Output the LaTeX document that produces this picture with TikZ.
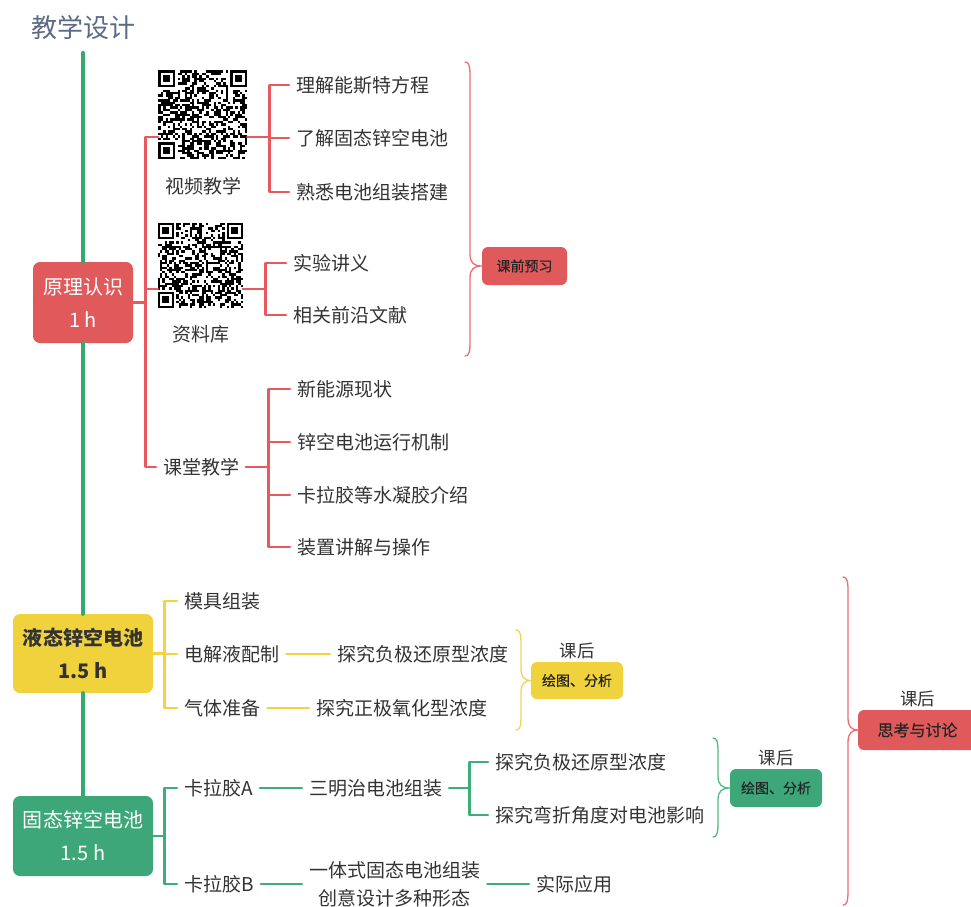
\documentclass[tikz,border=0pt]{standalone}
\usepackage{fontspec}
\setmainfont{Noto Sans CJK SC}
\newfontfamily\semibold{Noto Sans CJK SC}[FakeBold=0.6]
\usetikzlibrary{positioning,calc}

\definecolor{mindred}{HTML}{E05A5B}
\definecolor{linered}{HTML}{E8595F}
\definecolor{bracered}{HTML}{EB6D72}
\definecolor{mindyellow}{HTML}{EFD23C}
\definecolor{lineyellow}{HTML}{F2D340}
\definecolor{braceyellow}{HTML}{F0D45A}
\definecolor{mindgreen}{HTML}{3DA77A}
\definecolor{linegreen}{HTML}{3DAE7B}
\definecolor{bracegreen}{HTML}{52B888}
\definecolor{trunkgreen}{HTML}{36AA6E}
\definecolor{titleblue}{HTML}{5C6A86}
\definecolor{inkgray}{HTML}{333333}

% fake QR code: 37x37 modules drawn from the node's north west corner
\newcommand{\qrpattern}[3]{%
  \begin{scope}[shift={(#1.north west)}]
    \pgfmathsetseed{#3}
    \foreach \i in {0,...,36}
      \foreach \j in {0,...,36}{
        \pgfmathtruncatemacro\qron{(rnd<0.5)&&!((\i<8&&\j<8)||(\i>28&&\j<8)||(\i<8&&\j>28))}
        \ifnum\qron=1 \fill (\i*#2,\j*#2) rectangle ++(#2,#2); \fi
      }
    \foreach \fx/\fy in {0/0,30/0,0/30}{
      \fill (\fx*#2,\fy*#2) rectangle ++(7*#2,7*#2);
      \fill[white] (\fx*#2+#2,\fy*#2+#2) rectangle ++(5*#2,5*#2);
      \fill (\fx*#2+2*#2,\fy*#2+2*#2) rectangle ++(3*#2,3*#2);
    }
  \end{scope}}

% curly brace: colour, x, top, tip y, bottom, node at the tip
\newcommand{\groupbrace}[6]{%
  \draw[groupline,draw=#1] (#2-5,#3) .. controls (#2-1,#3) and (#2,#3+4) .. (#2,#3+14)
    -- (#2,#4-12) .. controls (#2,#4-3) and (#2+4,#4) .. (#6.west)
    .. controls (#2+4,#4) and (#2,#4+3) .. (#2,#4+12)
    -- (#2,#5-14) .. controls (#2,#5-4) and (#2-1,#5) .. (#2-5,#5);}

\begin{document}
\begin{tikzpicture}[x=1pt,y=-1pt,line cap=round,line join=round]
    \tikzstyle{every node}=[text=inkgray]
    \tikzstyle{title}=[font=\fontsize{26}{30}\selectfont,text=titleblue]
    \tikzstyle{topic}=[rounded corners=7pt,inner sep=0pt,align=center,font=\fontsize{20}{33}\selectfont]
    \tikzstyle{leaf}=[anchor=west,inner xsep=7pt,inner ysep=2pt,font=\fontsize{19}{28}\selectfont]
    \tikzstyle{tag}=[rounded corners=6pt,inner sep=0pt,text=black!85,font=\fontsize{14}{16}\semibold]
    \tikzstyle{note}=[inner sep=2pt,font=\fontsize{17.5}{20}\selectfont]
    \tikzstyle{qr}=[inner sep=0pt]
    \tikzstyle{trunk}=[draw=trunkgreen,line width=4.2pt]
    \tikzstyle{redline}=[draw=linered,line width=2.9pt]
    \tikzstyle{yellowline}=[draw=lineyellow,line width=2.9pt]
    \tikzstyle{greenline}=[draw=linegreen,line width=2.9pt]
    \tikzstyle{groupline}=[line width=1.3pt]

    \useasboundingbox (0,0) rectangle (971,906);

    % Title and main topics on the trunk
    \node[title] (heading) at (83,28) {教学设计};
    \coordinate (trunktop) at (83,53);
    \node[topic,fill=mindred,text=white,minimum width=100pt,minimum height=81pt] (principle) at (83,302.5) {原理认识\\1 h};
    \node[topic,fill=mindyellow,minimum width=140pt,minimum height=79pt,font=\fontsize{20}{33}\selectfont\bfseries] (liquid) at (83,653.5) {液态锌空电池\\1.5 h};
    \node[topic,fill=mindgreen,text=white,minimum width=140pt,minimum height=80pt] (solid) at (83,836) {固态锌空电池\\1.5 h};
    \draw[trunk] (trunktop) -- (principle.north) (principle.south) -- (liquid.north) (liquid.south) -- (solid.north);

    % Principle part: two QR codes and the classroom branch
    \node[qr,minimum size=89pt] (qrA) at (203,115) {};
    \node[qr,minimum size=85pt] (qrB) at (200.5,265.5) {};
    \qrpattern{qrA}{2.4}{7}
    \qrpattern{qrB}{2.3}{23}
    \node[leaf,anchor=center] (video) at (203,186) {视频教学};
    \node[leaf,anchor=center] (library) at (201,334) {资料库};
    \coordinate (qrA-in) at ($(qrA.west)+(0,22)$);
    \coordinate (qrA-out) at ($(qrA.east)+(0,22)$);
    \coordinate (qrB-in) at ($(qrB.west)+(0,23.5)$);
    \coordinate (qrB-out) at ($(qrB.east)+(0,23.5)$);

    \node[leaf] (nernst) at (289,85) {理解能斯特方程};
    \node[leaf] (solidintro) at (289,138) {了解固态锌空电池};
    \node[leaf] (assembly) at (289,192) {熟悉电池组装搭建};
    \node[leaf] (handout) at (286,263) {实验讲义};
    \node[leaf] (papers) at (286,315) {相关前沿文献};
    \node[leaf] (classroom) at (156,467) {课堂教学};
    \node[leaf] (energy) at (290,389) {新能源现状};
    \node[leaf] (mechanism) at (290,442) {锌空电池运行机制};
    \node[leaf] (hydrogel) at (290,495) {卡拉胶等水凝胶介绍};
    \node[leaf] (device) at (290,547) {装置讲解与操作};

    \foreach \dest in {qrA-in,qrB-in,classroom.west}
        \draw[redline] (principle.east) -- ++(12,0) |- (\dest);
    \foreach \dest in {nernst,solidintro,assembly}
        \draw[redline] (qrA-out) -- ++(22,0) |- (\dest.west);
    \foreach \dest in {handout,papers}
        \draw[redline] (qrB-out) -- ++(22,0) |- (\dest.west);
    \foreach \dest in {energy,mechanism,hydrogel,device}
        \draw[redline] (classroom.east) -- ++(22,0) |- (\dest.west);

    \node[tag,fill=mindred,minimum width=85pt,minimum height=38pt] (preview) at (524.5,266) {课前预习};
    \groupbrace{bracered}{470}{62}{266}{356}{preview}

    % Liquid battery part
    \node[leaf] (mould) at (177,601) {模具组装};
    \node[leaf] (electrolyte) at (177,654) {电解液配制};
    \node[leaf] (gas) at (177,708) {气体准备};
    \node[leaf] (anodeY) at (330,654) {探究负极还原型浓度};
    \node[leaf] (cathodeY) at (309,708) {探究正极氧化型浓度};
    \foreach \dest in {mould,electrolyte,gas}
        \draw[yellowline] (liquid.east) -- ++(11,0) |- (\dest.west);
    \draw[yellowline] (electrolyte.east) -- (anodeY.west);
    \draw[yellowline] (gas.east) -- (cathodeY.west);

    \node[tag,fill=mindyellow,minimum width=92pt,minimum height=37pt] (analysisY) at (577,680.5) {绘图、分析};
    \node[note,above=1pt of analysisY] (afterY) {课后};
    \groupbrace{braceyellow}{521}{630}{680.5}{730}{analysisY}

    % Solid battery part
    \node[leaf] (gelA) at (177,788) {卡拉胶A};
    \node[leaf] (gelB) at (177,884) {卡拉胶B};
    \node[leaf] (sandwich) at (302,788) {三明治电池组装};
    \node[leaf] (anodeG) at (488,762) {探究负极还原型浓度};
    \node[leaf] (bending) at (488,815) {探究弯折角度对电池影响};
    \node[leaf,align=center] (integrated) at (302,884) {一体式固态电池组装\\创意设计多种形态};
    \node[leaf] (application) at (529,884) {实际应用};
    \foreach \dest in {gelA,gelB}
        \draw[greenline] (solid.east) -- ++(11,0) |- (\dest.west);
    \draw[greenline] (gelA.east) -- (sandwich.west);
    \foreach \dest in {anodeG,bending}
        \draw[greenline] (sandwich.east) -- ++(20,0) |- (\dest.west);
    \draw[greenline] (gelB.east) -- (integrated.west);
    \draw[greenline] (integrated.east) -- (application.west);

    \node[tag,fill=mindgreen,minimum width=92pt,minimum height=38pt] (analysisG) at (776,788) {绘图、分析};
    \node[note,above=1pt of analysisG] (afterG) {课后};
    \groupbrace{bracegreen}{718}{738}{788}{837}{analysisG}

    % After class discussion for everything
    \node[tag,fill=mindred,minimum width=119pt,minimum height=40pt,font=\fontsize{16}{18}\semibold] (discussion) at (917.5,730) {思考与讨论};
    \node[note,above=1pt of discussion] (afterR) {课后};
    \groupbrace{bracered}{848}{577}{730}{905}{discussion}
\end{tikzpicture}
\end{document}
